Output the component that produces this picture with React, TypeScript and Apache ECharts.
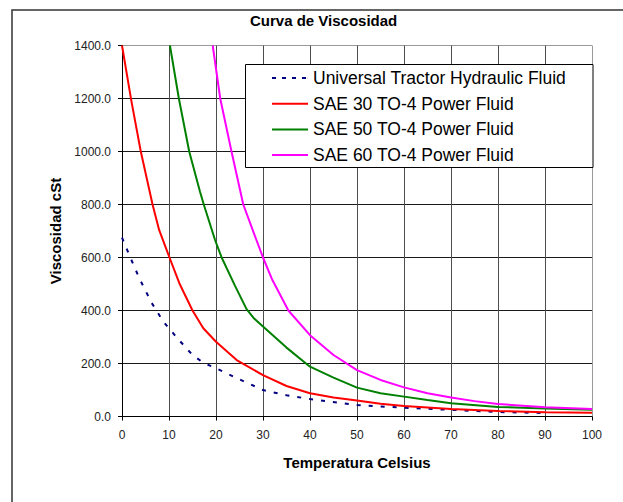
import React, { useEffect, useRef } from 'react';
import * as echarts from 'echarts';

const FONT = '"Liberation Sans", Arial, sans-serif';

const chartTitle = 'Curva de Viscosidad';
const xAxisName = 'Temperatura Celsius';
const yAxisName = 'Viscosidad cSt';

const seriesNames = [
  'Universal Tractor Hydraulic Fluid',
  'SAE 30 TO-4 Power Fluid',
  'SAE 50 TO-4 Power Fluid',
  'SAE 60 TO-4 Power Fluid',
];

const utfTemps = [0, 1.7, 3.7, 6.3, 8.8, 11.8, 15, 17.3, 20, 25, 30, 35, 40, 50, 60, 70, 80, 90];
const utfVisc = [675, 603, 521, 429, 358, 295, 232, 203, 182, 140, 100, 80, 66, 43, 33, 25, 17, 13];

const sae30Temps = [0, 2, 4, 6.5, 7.9, 10.1, 12.2, 15, 17.3, 20, 24.4, 30, 35, 40, 45, 50, 55, 60, 70, 80, 90, 100];
const sae30Visc = [1400, 1190, 1000, 800, 704, 600, 503, 400, 333, 282, 213, 156, 115, 88, 72, 60, 48, 40, 28, 21, 16, 14];

const sae50Temps = [10.2, 12.1, 14.3, 16.6, 17.4, 19.8, 21.2, 24, 26.5, 28, 30, 35, 40, 45, 50, 55, 60, 65, 70, 80, 90, 100];
const sae50Visc = [1400, 1200, 1000, 848, 800, 666, 600, 495, 405, 372, 340, 260, 188, 147, 109, 88, 75, 62, 50, 36, 30, 25];

const sae60Temps = [19.3, 20.9, 23.3, 25.8, 27.8, 30, 32, 35.4, 40, 45, 50, 55, 60, 65, 70, 75, 80, 90, 100];
const sae60Visc = [1400, 1200, 1000, 800, 704, 600, 515, 400, 307, 232, 175, 138, 110, 88, 72, 58, 47, 35, 28];

const xTicks = [0, 10, 20, 30, 40, 50, 60, 70, 80, 90, 100];
const yTicks = [0, 200, 400, 600, 800, 1000, 1200, 1400];

const pairs = (t: number[], v: number[]) => t.map((x, i) => [x, v[i]]);

const SOLID_ICON = 'path://M0 0H36V2H0Z';
const DASH_ICON = 'path://M0 0H4V2H0ZM10 0H14V2H10ZM20 0H24V2H20ZM30 0H34V2H30ZM35.9 0H36V2H35.9Z';

export default function App() {
  const ref = useRef<HTMLDivElement>(null);
  useEffect(() => {
    const chart = echarts.init(ref.current!, null, { renderer: 'svg' });
    const nameStyle = { fontSize: 15, fontWeight: 'bold', color: '#000', fontFamily: FONT };
    chart.setOption({
      animation: false,
      backgroundColor: '#fff',
      textStyle: { fontFamily: FONT },
      title: {
        text: chartTitle,
        left: 250,
        top: 13,
        padding: 0,
        textStyle: nameStyle,
      },
      grid: { left: 122, top: 45.5, width: 470, height: 371, containLabel: false },
      xAxis: {
        type: 'value',
        min: xTicks[0],
        max: xTicks[xTicks.length - 1],
        interval: 10,
        name: xAxisName,
        nameLocation: 'middle',
        nameGap: 38,
        nameTextStyle: nameStyle,
        axisLine: { show: true, lineStyle: { color: '#000', width: 1 } },
        axisTick: { show: true, length: 4, lineStyle: { color: '#000' } },
        axisLabel: { fontSize: 12, color: '#222', margin: 12, fontFamily: FONT },
        splitLine: {
          show: true,
          lineStyle: {
            width: 1,
            color: xTicks.map((_, i) => (i === xTicks.length - 1 ? '#999' : '#4d4d4d')),
          },
        },
      },
      yAxis: {
        type: 'value',
        min: yTicks[0],
        max: yTicks[yTicks.length - 1],
        interval: 200,
        name: yAxisName,
        nameLocation: 'middle',
        nameRotate: 90,
        nameGap: 59,
        nameTextStyle: nameStyle,
        axisLine: { show: true, lineStyle: { color: '#000', width: 1 } },
        axisTick: { show: true, length: 4, lineStyle: { color: '#000' } },
        axisLabel: {
          fontSize: 12,
          color: '#222',
          margin: 11,
          fontFamily: FONT,
          formatter: (v: number) => v.toFixed(1),
        },
        splitLine: {
          show: true,
          lineStyle: {
            width: 1,
            color: yTicks.map((_, i) => (i === yTicks.length - 1 ? '#999' : '#1a1a1a')),
          },
        },
      },
      legend: {
        orient: 'vertical',
        left: 272,
        top: 69,
        itemWidth: 36,
        itemHeight: 2,
        itemGap: 7.7,
        padding: 0,
        z: 10,
        data: seriesNames.map((n, i) => ({ name: n, icon: i === 0 ? DASH_ICON : SOLID_ICON })),
        textStyle: { fontSize: 17.5, color: '#000', lineHeight: 16, fontFamily: FONT },
      },
      graphic: [
        {
          type: 'rect',
          z: 5,
          silent: true,
          shape: { x: 245.5, y: 64.5, width: 347.5, height: 103 },
          style: { fill: '#fff', stroke: '#000', lineWidth: 1 },
        },
        {
          type: 'rect',
          z: 100,
          silent: true,
          shape: { x: 12, y: 10, width: 800, height: 800 },
          style: { fill: 'none', stroke: '#333', lineWidth: 1.5 },
        },
      ],
      series: [
        {
          name: seriesNames[0],
          type: 'line',
          symbol: 'none',
          clip: true,
          data: pairs(utfTemps, utfVisc),
          lineStyle: { color: '#000080', width: 2, type: [4, 8] },
          itemStyle: { color: '#000080' },
        },
        {
          name: seriesNames[1],
          type: 'line',
          symbol: 'none',
          clip: true,
          data: pairs(sae30Temps, sae30Visc),
          lineStyle: { color: '#ff0000', width: 2 },
          itemStyle: { color: '#ff0000' },
        },
        {
          name: seriesNames[2],
          type: 'line',
          symbol: 'none',
          clip: true,
          data: pairs(sae50Temps, sae50Visc),
          lineStyle: { color: '#008000', width: 2 },
          itemStyle: { color: '#008000' },
        },
        {
          name: seriesNames[3],
          type: 'line',
          symbol: 'none',
          clip: true,
          data: pairs(sae60Temps, sae60Visc),
          lineStyle: { color: '#ff00ff', width: 2 },
          itemStyle: { color: '#ff00ff' },
        },
      ],
    });
    return () => chart.dispose();
  }, []);
  return (
    <div
      ref={ref}
      style={{ position: 'fixed', left: 0, top: 0, width: 623, height: 502, background: '#fff' }}
    />
  );
}
